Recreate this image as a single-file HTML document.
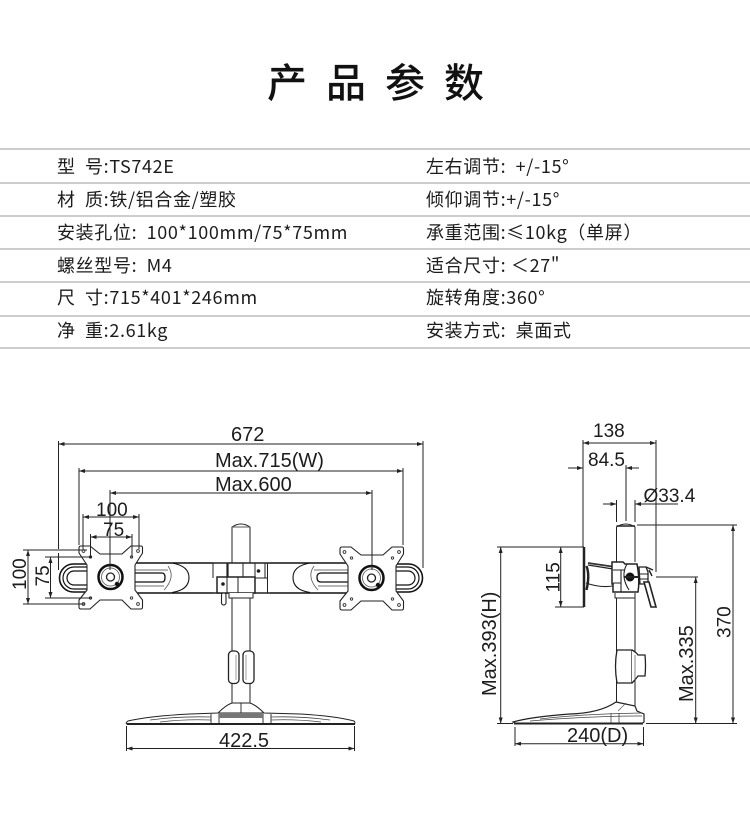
<!DOCTYPE html>
<html lang="zh">
<head>
<meta charset="utf-8">
<style>
html,body{margin:0;padding:0;background:#fff}
#p{position:relative;width:750px;height:818px;overflow:hidden;background:#fff}
.t{position:absolute;white-space:nowrap;font-family:"Liberation Sans","Noto Sans CJK SC",sans-serif;font-size:18px;line-height:20px;color:#1c1c1c;letter-spacing:.65px}
.c{font-family:"Noto Sans CJK SC",sans-serif}
.r{position:absolute;left:0;width:750px;height:2px;background:#cdcdcd}
#h{position:absolute;left:267px;top:51px;font-family:"Noto Sans CJK SC",sans-serif;font-size:40px;line-height:58px;font-weight:500;letter-spacing:19px;color:#111;white-space:nowrap}
svg{position:absolute;left:0;top:0}
svg text{font-family:"Liberation Sans",sans-serif;font-size:20px;fill:#1c1c1c}
svg text.s{font-size:19px}
</style>
</head>
<body>
<div id="p">
<div id="h">产品参数</div>
<div class="r" style="top:148px"></div><div class="r" style="top:182px"></div><div class="r" style="top:215px"></div><div class="r" style="top:248px"></div><div class="r" style="top:281px"></div><div class="r" style="top:315px"></div><div class="r" style="top:347px"></div>

<div class="t c" style="left:57px;top:156px">型&nbsp;&nbsp;号:TS742E</div>
<div class="t c" style="left:57px;top:189px">材&nbsp;&nbsp;质:铁/铝合金/塑胶</div>
<div class="t c" style="left:57px;top:222px">安装孔位:&nbsp;&nbsp;100*100mm/75*75mm</div>
<div class="t c" style="left:57px;top:255px">螺丝型号:&nbsp;&nbsp;M4</div>
<div class="t c" style="left:57px;top:287px">尺&nbsp;&nbsp;寸:715*401*246mm</div>
<div class="t c" style="left:57px;top:320px">净&nbsp;&nbsp;重:2.61kg</div>
<div class="t c" style="left:426px;top:156px">左右调节:&nbsp;&nbsp;+/-15°</div>
<div class="t c" style="left:426px;top:189px">倾仰调节:+/-15°</div>
<div class="t c" style="left:426px;top:222px">承重范围:≤10kg（单屏）</div>
<div class="t c" style="left:426px;top:255px">适合尺寸:&nbsp;＜27"</div>
<div class="t c" style="left:426px;top:287px">旋转角度:360°</div>
<div class="t c" style="left:426px;top:320px">安装方式:&nbsp;&nbsp;桌面式</div>

<svg width="750" height="818" viewBox="0 0 750 818" xmlns="http://www.w3.org/2000/svg">
<defs>
<marker id="a" viewBox="0 0 6 4" refX="6" refY="2" markerWidth="6" markerHeight="4" markerUnits="userSpaceOnUse" orient="auto-start-reverse"><path d="M0 0L6 2L0 4Z" fill="#222"/></marker>
<g id="plate">
<path d="M81 546H90L100 554H122L131 546H141Q142.500 546 142.500 548V553L135 565V590L142.500 600V607Q142.500 609 141 609H131L122 600H100L90 609H81Q79 609 79 607V600L87 590V565L79 553V548Q79 546 81 546Z" fill="#fff" stroke="#222" stroke-width="1.100"/>
<circle cx="110.500" cy="577" r="12" fill="#fff" stroke="#111" stroke-width="2.500"/>
<circle cx="110.500" cy="577" r="9" fill="none" stroke="#555" stroke-width=".8"/>
<circle cx="110.500" cy="577" r="4" fill="none" stroke="#222" stroke-width="1.300"/>
<circle cx="117" cy="584" r="2.200" fill="#111"/>
<g fill="none" stroke="#333" stroke-width=".9">
<circle cx="83.500" cy="551" r="1.400"/><circle cx="90.500" cy="557" r="1.200"/><circle cx="131.500" cy="557" r="1.200"/><circle cx="138" cy="551" r="1.400"/>
<circle cx="83.500" cy="604" r="1.400"/><circle cx="90.500" cy="598" r="1.200"/><circle cx="131.500" cy="598" r="1.200"/><circle cx="138" cy="604" r="1.400"/>
</g>
</g>
</defs>

<!-- front view: arm -->
<g fill="none" stroke="#111" stroke-width="1">
<path d="M87 564H74A14 14 0 0 0 59.500 578A14 14 0 0 0 74 592H87" fill="#fff" stroke-width="1.600"/>
<path d="M87 567H74A11 11 0 0 0 63 578A11 11 0 0 0 74 589H87" stroke-width="1.200"/>
<path d="M87 571H74A7 7 0 0 0 67 578A7 7 0 0 0 74 585H87" stroke-width="1.200"/>
<path d="M135 563H213M135 593H213" stroke-width="1.500"/>
<path d="M135 573H162Q165 573 165 577.500Q165 582 162 582H135" stroke-width="1.300"/>
<path d="M135 570H168M135 586H164" stroke="#444" stroke-width=".8"/>
<path d="M172 563Q189 566 189 577.500Q189 590 172 592.500" stroke-width="1.100"/>
<path d="M168 566Q176 577 164 590" stroke="#555" stroke-width=".8"/>

<path d="M396 564H408A14 14 0 0 1 422.500 578A14 14 0 0 1 408 592H396" fill="#fff" stroke-width="1.600"/>
<path d="M396 567H408A11 11 0 0 1 419 578A11 11 0 0 1 408 589H396" stroke-width="1.200"/>
<path d="M396 571H408A7 7 0 0 1 415 578A7 7 0 0 1 408 585H396" stroke-width="1.200"/>
<path d="M270 563H348M270 593H348" stroke-width="1.500"/>
<path d="M348 573H321Q317 573 317 577.500Q317 582 321 582H348" stroke-width="1.300"/>
<path d="M348 570H314M348 586H318" stroke="#444" stroke-width=".8"/>
<path d="M310 563Q293 566 293 577.500Q293 590 310 592.500" stroke-width="1.100"/>
<path d="M314 566Q306 577 318 590" stroke="#555" stroke-width=".8"/>
</g>

<use href="#plate"/>
<use href="#plate" x="261" y="1"/>

<!-- pole & clamp -->
<g fill="none" stroke="#222" stroke-width="1">
<path d="M232 563V527Q241 521 250 527V563"/>
<path d="M232 527H250" stroke="#555"/>
<path d="M232 598V703M250 598V703"/>
<path d="M213 563H270M213 593H270" stroke-width="1.600"/>
<path d="M213 563V578"/>
<path d="M227.500 563V577" stroke-width="2.200"/>
<path d="M243 563V577M255 563V577M265 563V578M267.500 563V593M255 578H267"/>
<path d="M217 577H255V593H217Z" stroke-width="1.500" fill="#fff"/>
<path d="M227 577V593M238 577V593"/>
<path d="M229 593V598H253V593" fill="#fff"/>
<rect x="221.500" y="593" width="4.500" height="12" rx="2.200" fill="#fff" stroke-width="1.100"/>
<circle cx="223" cy="584" r="1.300" fill="#111"/><circle cx="258.500" cy="571" r="1.300" fill="#111"/>
<rect x="228.500" y="651" width="10.500" height="32.500" rx="4" fill="#fff" stroke-width="1.300"/>
<rect x="243" y="651" width="11" height="32.500" rx="4" fill="#fff" stroke-width="1.300"/>
<path d="M236 655V680M246 655V680" stroke="#777" stroke-width=".7"/>
<!-- base -->
<path d="M232 703H250Q256 705 264 713L300 714Q335 716 354 721Q356 723 354 724H127Q125 723 128 721Q150 716 190 714L218 713Q226 705 232 703Z" fill="#fff"/>
<path d="M127 724H355" stroke-width="2"/>
<path d="M241 703V713M218 713H264M211 714V724M219 714V724M263 714V724M271 714V724" stroke-width=".9"/>
<path d="M219 715.500H263" stroke="#777" stroke-width="5"/>
<path d="M150 720Q180 716 211 717M330 720Q300 716 271 717M160 722Q185 719 211 720M321 722Q296 719 271 720" stroke="#444" stroke-width=".8"/>
</g>

<!-- front view dims -->
<g fill="none" stroke="#222" stroke-width="1">
<path d="M58.500 444H423" marker-start="url(#a)" marker-end="url(#a)"/>
<path d="M79 471H403" marker-start="url(#a)" marker-end="url(#a)"/>
<path d="M110 493H372" marker-start="url(#a)" marker-end="url(#a)"/>
<path d="M83 517H139" marker-start="url(#a)" marker-end="url(#a)"/>
<path d="M90.500 537H132" marker-start="url(#a)" marker-end="url(#a)"/>
<path d="M28 550V604" marker-start="url(#a)" marker-end="url(#a)"/>
<path d="M50.500 557V598" marker-start="url(#a)" marker-end="url(#a)"/>
<path d="M58.500 441V549M423 441V568M79 468V545M403 468V545M110 490V570M372 490V570"/>
<path d="M83 514V549M139 514V549M90.500 534V558M132 534V558"/>
<path d="M23 550H87M23 604H85M45 557H92M45 598H92"/>
<path d="M58.500 553V570"/>
<path d="M126.500 726V751M354.500 726V751"/>
<path d="M126.500 748.500H354.500" marker-start="url(#a)" marker-end="url(#a)"/>
</g>
<text x="231" y="441">672</text>
<text x="215" y="467">Max.715(W)</text>
<text x="215" y="491">Max.600</text>
<text class="s" x="96" y="516">100</text>
<text class="s" x="103" y="536">75</text>
<text x="219" y="747">422.5</text>
<text class="s" transform="translate(26 590) rotate(-90)">100</text>
<text class="s" transform="translate(49 586.500) rotate(-90)">75</text>

<!-- side view -->
<g fill="none" stroke="#222" stroke-width="1">
<path d="M616.500 562V527Q626 521 635 527V562"/>
<path d="M616.500 526H635" stroke-width="1.400"/>
<path d="M616.500 598V702M635 598V706"/>
<path d="M584 547V607" stroke-width="2.500"/>
<path d="M586.500 566Q590 575 586.500 590" stroke-width="2.400"/>
<path d="M588 565L613 569" stroke-width="1.200"/>
<path d="M588 563L612 566.500" stroke-width="1.800" stroke="#333"/>
<path d="M586 583Q600 588 613 586" stroke-width="1.100"/>
<path d="M612 562H623L625 564H637Q640 580 638 592H613V584H612Z" fill="#fff" stroke-width="1.500"/>
<path d="M613 583H621V592M621 570V583M613 570H624M627 564Q620 576 629 590" stroke-width="1.100"/>
<path d="M615 593V598H635V593" fill="#fff"/>
<circle cx="630" cy="577" r="4.500" fill="#111" stroke="none"/>
<path d="M624 577H638" stroke-width="2"/>
<path d="M639 567H646L648 572V584H640Z" fill="#fff" stroke-width="1.300"/>
<path d="M640 574H648M640 579H648" stroke-width="1"/>
<path d="M646 567L653 570M649 570L652 576" stroke-width="1.400"/>
<path d="M644 582L651 607H656L649 582Z" fill="#fff" stroke-width="1.600"/>
<!-- collar -->
<path d="M617 650H632V683H617Q614 666 617 650Z" fill="#fff" stroke-width="1.300"/>
<path d="M632 650Q636 652 638 655H645Q646 666 645 676H638Q635 680 632 683" fill="#fff" stroke-width="1.300"/>
<path d="M635 655V680" stroke="#666" stroke-width=".8"/>
<!-- side base -->
<path d="M616 702L635 706L637 711L644 714V722L642 723.500H516L513 722Q530 717 570 714Q600 713 616 702Z" fill="#fff" stroke-width="1.200"/>
<path d="M514 723.500H643" stroke-width="2"/>
<path d="M540 719Q580 714 642 713M530 721Q590 716 642 716M611 713V723M619 713V723" stroke="#444" stroke-width=".8"/>
<path d="M618 711L626 703" stroke="#555" stroke-width=".7"/>
</g>

<!-- side view dims -->
<g fill="none" stroke="#222" stroke-width="1">
<path d="M583 443H656" marker-start="url(#a)" marker-end="url(#a)"/>
<path d="M568 468H583" marker-end="url(#a)"/>
<path d="M639 468H626" marker-end="url(#a)"/>
<path d="M603 504H616.500" marker-end="url(#a)"/>
<path d="M678 504H635" marker-end="url(#a)"/>
<path d="M583 440V547M656 440V572M626 465V521M616.500 500V522M635 500V522"/>
<path d="M500.700 547V723.500" marker-start="url(#a)" marker-end="url(#a)"/>
<path d="M560.700 547V607" marker-start="url(#a)" marker-end="url(#a)"/>
<path d="M733 525V723.500" marker-start="url(#a)" marker-end="url(#a)"/>
<path d="M695.700 577V723.500" marker-start="url(#a)" marker-end="url(#a)"/>
<path d="M497 547H584M555 607H584M637 525H737M656 577H698M497 723.500H513M646 723.500H737"/>
<path d="M515 727V746M643.500 727V746"/>
<path d="M515 743.700H643.500" marker-start="url(#a)" marker-end="url(#a)"/>
</g>
<text class="s" x="593" y="437">138</text>
<text class="s" x="588" y="466">84.5</text>
<text class="s" x="643.500" y="502">Ø33.4</text>
<text x="567" y="742">240(D)</text>
<text transform="translate(496 696) rotate(-90)">Max.393(H)</text>
<text class="s" transform="translate(559.500 592.500) rotate(-90)">115</text>
<text transform="translate(693 702) rotate(-90)">Max.335</text>
<text class="s" transform="translate(730.500 638) rotate(-90)">370</text>
</svg>
</div>
</body>
</html>
